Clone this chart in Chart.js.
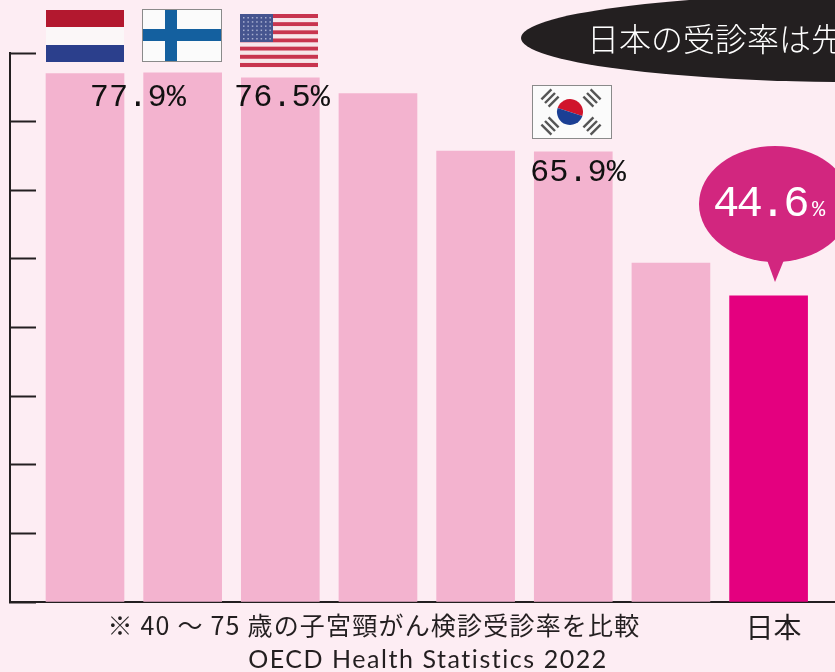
<!DOCTYPE html>
<html lang="ja"><head><meta charset="utf-8">
<style>html,body{margin:0;padding:0;background:#fdedf3;overflow:hidden}canvas{display:block}</style>
<script src="https://cdn.jsdelivr.net/npm/chart.js@4"></script></head>
<body><canvas id="c" width="835" height="672"></canvas>
<script>
const categories = ['オランダ','フィンランド','アメリカ','','','韓国','','日本'];
const tickNames = ['','','','','','','','日本'];
const values = [77.0,77.1,76.4,74.1,65.7,65.6,49.4,44.6];
const valueLabels = ['77.9%','76.5%','65.9%'];
const japanValue = '44.6';
const headline = '日本の受診率は先';
const footnote = '※ 40 ～ 75 歳の子宮頸がん検診受診率を比較';
const source = 'OECD Health Statistics 2022';
const barColor = '#f3b3cf', japanColor = '#e4007f', ink = '#231f20', bg = '#fdedf3';
const JP = '"Noto Sans CJK JP"';

function rect(c,x,y,w,h,col){c.fillStyle=col;c.fillRect(x,y,w,h);}
function flags(c){
  // Netherlands
  rect(c,46,10,78,17,'#b3182f');rect(c,46,27,78,18,'#fbf7f8');rect(c,46,45,78,17,'#2b3f8c');
  // Finland
  rect(c,142,9,80,53,'#fbfbfb');rect(c,142,29,80,12,'#14609f');rect(c,165,9,12,53,'#14609f');
  c.strokeStyle='#8a8a8a';c.lineWidth=1;c.strokeRect(142.5,9.5,79,52);
  // USA
  for(let i=0;i<13;i++)rect(c,240,14+i*4.08,78,4.08,i%2?'#f7e6ea':'#c8354f');
  rect(c,240,14,33,28,'#46558f');
  c.fillStyle='#a9b0d0';
  for(let r=0;r<6;r++)for(let k=0;k<7;k++){c.fillRect(243+k*4.4,17+r*4.2,1.5,1.5);}
  // Korea
  rect(c,532,85,80,54,'#fbfbfb');c.strokeStyle='#8a8a8a';c.lineWidth=1;c.strokeRect(532.5,85.5,79,53);
  c.fillStyle='#d0142c';c.beginPath();c.arc(570,112,13,Math.PI*1.1,Math.PI*0.1);c.fill();
  c.fillStyle='#1b3f94';c.beginPath();c.arc(570,112,13,Math.PI*0.1,Math.PI*1.1);c.fill();
  c.strokeStyle='#555';c.lineWidth=2.4;
  [[550,98,1],[592,98,-1],[550,126,-1],[592,126,1]].forEach(([x,y,s])=>{
    for(let k=-1;k<=1;k++){
      const ox=k*3.6, oy=k*3.6*s;
      c.beginPath();c.moveTo(x+ox-5,y+oy+5*s);c.lineTo(x+ox+5,y+oy-5*s);c.stroke();
    }
  });
}
const annotations = {
  id:'annotations',
  afterDatasetsDraw(chart){
    const c=chart.ctx, xs=chart.scales.x;
    c.save();
    flags(c);
    // headline ellipse
    c.fillStyle=ink;c.beginPath();c.ellipse(860,38,339,44,0,0,Math.PI*2);c.fill();
    c.fillStyle='#fff';c.textAlign='left';c.textBaseline='middle';
    c.font='300 32px '+JP;c.fillText(headline,587,39);
    // value labels
    c.fillStyle='#111';c.textAlign='center';c.textBaseline='middle';
    c.font='32px "Liberation Mono"';
    c.fillText(valueLabels[0],xs.getPixelForValue(0.5)+4,98);
    c.fillText(valueLabels[1],282,98);
    c.fillText(valueLabels[2],578,173);
    // Japan bubble
    c.fillStyle='#d2267f';c.beginPath();c.ellipse(775,204,76,58,0,0,Math.PI*2);c.fill();
    c.beginPath();c.moveTo(767,260);c.lineTo(784,260);c.lineTo(775,282);c.closePath();c.fill();
    c.fillStyle='#fff';c.textAlign='left';
    c.font='44px "Liberation Mono"';c.letterSpacing='-3px';c.fillText(japanValue,713,204);
    c.letterSpacing='0px';
    c.font='22px "Liberation Mono"';c.fillText('%',812,210);
    // footnotes
    c.fillStyle=ink;c.textAlign='center';
    c.font='25px '+JP;c.letterSpacing='1.2px';c.fillText(footnote,374,625);
    c.font='25px Lato';c.letterSpacing='1.55px';c.fillText(source,428,660);
    c.restore();
  }
};
new Chart(document.getElementById('c'),{
  type:'bar',
  data:{datasets:[{
    data:values.map((v,i)=>({x:i,y:v})),
    backgroundColor:values.map((v,i)=>i===values.length-1?japanColor:barColor),
    barThickness:78,borderWidth:0
  }]},
  options:{
    responsive:false,animation:false,
    layout:{padding:{left:10,top:53,right:0,bottom:0}},
    plugins:{legend:{display:false},tooltip:{enabled:false},title:{display:false}},
    scales:{
      x:{type:'linear',offset:false,min:-0.768,max:7.68,
        afterFit(s){s.height=70;},
        grid:{display:false},
        border:{display:true,color:ink,width:2},
        ticks:{stepSize:1,autoSkip:false,maxRotation:0,includeBounds:false,
          padding:1,labelOffset:5,color:ink,font:{family:JP,size:28},
          callback:v=>tickNames[v]||''}},
      y:{min:0,max:80,
        afterFit(s){s.width=0;},
        grid:{drawOnChartArea:false,drawTicks:true,tickLength:-26,tickColor:ink,tickWidth:2},
        border:{display:true,color:ink,width:2},
        ticks:{display:false,stepSize:10}}
    }
  },
  plugins:[annotations,{id:'bg',beforeDraw(ch){ch.ctx.fillStyle=bg;ch.ctx.fillRect(0,0,ch.width,ch.height);}}]
});
</script></body></html>
